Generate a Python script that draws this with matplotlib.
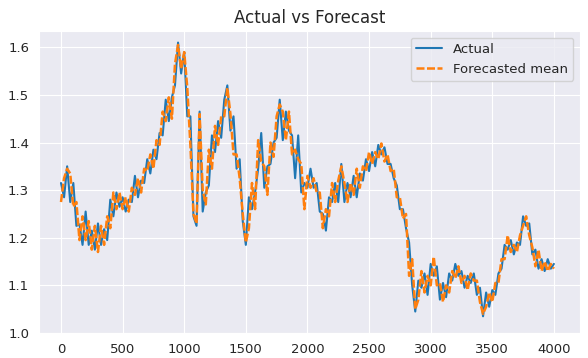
import matplotlib
matplotlib.use("Agg")
import matplotlib.pyplot as plt
import seaborn as sns

# sample index (every 25 steps)
steps = list(range(0, 4001, 25))

# actual values, 8 per row (200 steps per row)
actual = [
    1.315, 1.285, 1.350, 1.275, 1.315, 1.225, 1.228, 1.185,
    1.255, 1.185, 1.215, 1.175, 1.230, 1.185, 1.218, 1.195,
    1.280, 1.245, 1.295, 1.265, 1.285, 1.255, 1.280, 1.275,
    1.330, 1.285, 1.320, 1.315, 1.365, 1.335, 1.385, 1.365,
    1.420, 1.415, 1.490, 1.445, 1.495, 1.520, 1.610, 1.545,
    1.590, 1.455, 1.455, 1.245, 1.225, 1.465, 1.255, 1.295,
    1.310, 1.415, 1.380, 1.445, 1.410, 1.490, 1.520, 1.425,
    1.455, 1.345, 1.365, 1.235, 1.185, 1.285, 1.260, 1.295,
    1.345, 1.420, 1.305, 1.350, 1.355, 1.400, 1.410, 1.490,
    1.405, 1.465, 1.425, 1.415, 1.325, 1.415, 1.295, 1.315,
    1.305, 1.345, 1.305, 1.315, 1.255, 1.250, 1.215, 1.285,
    1.275, 1.315, 1.275, 1.355, 1.275, 1.315, 1.285, 1.330,
    1.285, 1.335, 1.320, 1.365, 1.340, 1.380, 1.350, 1.395,
    1.375, 1.390, 1.355, 1.355, 1.325, 1.310, 1.260, 1.260,
    1.220, 1.190, 1.100, 1.045, 1.110, 1.095, 1.125, 1.080,
    1.145, 1.120, 1.140, 1.070, 1.105, 1.075, 1.125, 1.110,
    1.145, 1.120, 1.130, 1.095, 1.120, 1.105, 1.125, 1.080,
    1.095, 1.035, 1.085, 1.055, 1.090, 1.080, 1.125, 1.135,
    1.185, 1.175, 1.195, 1.165, 1.190, 1.185, 1.245, 1.225,
    1.230, 1.165, 1.175, 1.135, 1.155, 1.130, 1.155, 1.135,
    1.145,
]

# forecasted mean, same steps
forecast = [
    1.275, 1.325, 1.345, 1.335, 1.265, 1.275, 1.195, 1.245,
    1.195, 1.235, 1.175, 1.225, 1.170, 1.225, 1.185, 1.245,
    1.220, 1.295, 1.260, 1.295, 1.260, 1.285, 1.255, 1.305,
    1.290, 1.325, 1.295, 1.345, 1.340, 1.375, 1.345, 1.405,
    1.395, 1.465, 1.445, 1.495, 1.450, 1.565, 1.605, 1.555,
    1.590, 1.515, 1.395, 1.250, 1.230, 1.460, 1.300, 1.270,
    1.385, 1.345, 1.435, 1.395, 1.455, 1.455, 1.515, 1.460,
    1.375, 1.375, 1.325, 1.250, 1.190, 1.220, 1.315, 1.260,
    1.405, 1.360, 1.350, 1.290, 1.400, 1.370, 1.455, 1.480,
    1.465, 1.405, 1.465, 1.375, 1.385, 1.365, 1.355, 1.260,
    1.330, 1.305, 1.325, 1.295, 1.295, 1.220, 1.260, 1.245,
    1.315, 1.275, 1.320, 1.350, 1.315, 1.275, 1.315, 1.290,
    1.345, 1.305, 1.350, 1.340, 1.380, 1.355, 1.380, 1.365,
    1.398, 1.360, 1.375, 1.340, 1.345, 1.285, 1.285, 1.240,
    1.250, 1.120, 1.155, 1.050, 1.070, 1.130, 1.085, 1.120,
    1.100, 1.160, 1.100, 1.105, 1.065, 1.100, 1.085, 1.130,
    1.115, 1.140, 1.105, 1.120, 1.090, 1.125, 1.110, 1.110,
    1.065, 1.040, 1.055, 1.085, 1.065, 1.105, 1.105, 1.155,
    1.155, 1.205, 1.170, 1.185, 1.170, 1.205, 1.225, 1.245,
    1.205, 1.180, 1.140, 1.175, 1.130, 1.150, 1.130, 1.145,
    1.135,
]

sns.set_style("darkgrid")

fig = plt.figure(figsize=(5.88, 3.58), dpi=100)
ax = fig.add_axes([0.066, 0.070, 0.920, 0.843])

ax.plot(steps, actual, color="#1f77b4", lw=1.5, label="Actual")
ax.plot(steps, forecast, color="#ff7f0e", lw=1.8, ls="--",
        dashes=(3.2, 1.0), label="Forecasted mean")

ax.set_xlim(-180, 4210)
ax.set_ylim(1.0, 1.634)
ax.set_xticks([0, 500, 1000, 1500, 2000, 2500, 3000, 3500, 4000])
ax.set_yticks([1.0, 1.1, 1.2, 1.3, 1.4, 1.5, 1.6])
ax.tick_params(labelsize=9.5, colors=".15")
ax.set_title("Actual vs Forecast", fontsize=12, color=".15")
ax.legend(loc="upper right", fontsize=9.5)

fig.savefig("out.png", dpi=100)
